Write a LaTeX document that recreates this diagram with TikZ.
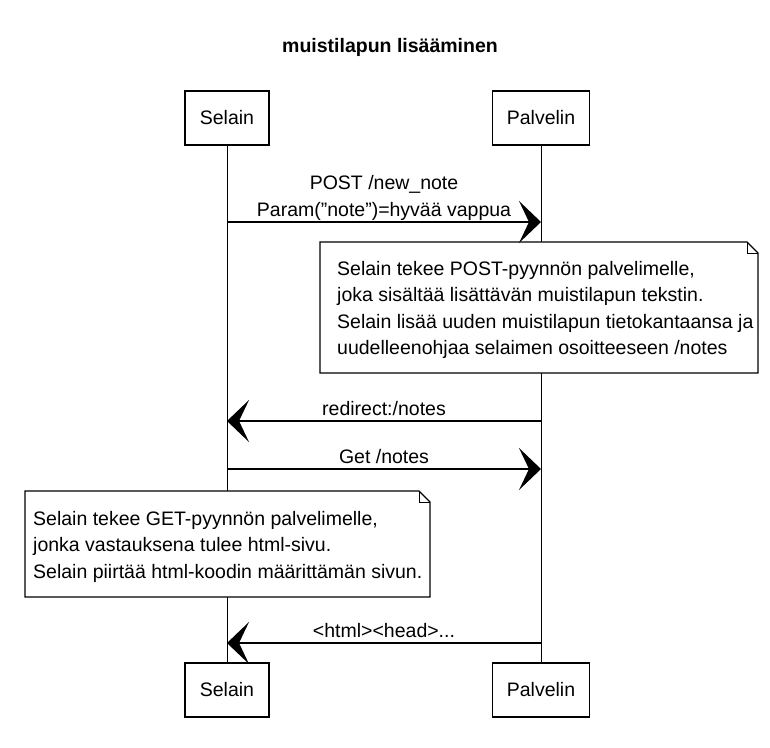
\documentclass[tikz,border=0pt]{standalone}
\usepackage{fontspec}
\setmainfont{Liberation Sans}
\usetikzlibrary{arrows.meta,calc}
\tikzset{
  actor/.style={draw, line width=1.1pt, fill=white, minimum height=54pt, inner sep=0pt},
  lifeline/.style={line width=0.9pt},
  msg/.style={line width=1.2pt, -{Stealth[length=22pt,width=42pt,inset=10pt]}},
  msglabel/.style={above, inner sep=5pt, text depth=0pt, align=center},
  noteline/.style={line width=1.1pt, fill=white},
  notetext/.style={align=left, inner sep=0pt, anchor=north west}
}
\begin{document}
\begin{tikzpicture}[x=1pt,y=-1pt,font=\fontsize{19.5}{26.5}\selectfont]
\useasboundingbox (0,0) rectangle (770,747);
\node[font=\fontsize{19.5}{24}\selectfont\bfseries] (title) at (390,47) {muistilapun lisääminen};
% participants
\node[actor, minimum width=84pt] (selainA) at (227,118) {Selain};
\node[actor, minimum width=97pt] (palvelinA) at (541,118) {Palvelin};
\node[actor, minimum width=84pt] (selainB) at (227,690) {Selain};
\node[actor, minimum width=97pt] (palvelinB) at (541,690) {Palvelin};
\draw[lifeline] (selainA) -- (selainB);
\draw[lifeline] (palvelinA) -- (palvelinB);
% notes
\filldraw[noteline] (320,242) -- (747,242) -- (758,253) -- (758,373) -- (320,373) -- cycle;
\draw[line width=1pt] (747,242) -- (747,253) -- (758,253);
\node[notetext] (note1) at (337,261) {Selain tekee POST-pyynnön palvelimelle,\\joka sisältää lisättävän muistilapun tekstin.\\Selain lisää uuden muistilapun tietokantaansa ja\\uudelleenohjaa selaimen osoitteeseen /notes};
\filldraw[noteline] (25,491) -- (419,491) -- (430,502) -- (430,597) -- (25,597) -- cycle;
\draw[line width=1pt] (419,491) -- (419,502) -- (430,502);
\node[notetext] (note2) at (33,511) {Selain tekee GET-pyynnön palvelimelle,\\jonka vastauksena tulee html-sivu.\\Selain piirtää html-koodin määrittämän sivun.};
% messages
\coordinate (post1) at (227,222);
\coordinate (post2) at (541,222);
\coordinate (redir1) at (541,421);
\coordinate (redir2) at (227,421);
\coordinate (get1) at (227,469);
\coordinate (get2) at (541,469);
\coordinate (html1) at (541,643);
\coordinate (html2) at (227,643);
\draw[msg] (post1) -- node[msglabel] (postlbl) {POST /new\_note\\Param(\symbol{34}note\symbol{34})=hyvää vappua} (post2);
\draw[msg] (redir1) -- node[msglabel] (redirlbl) {redirect:/notes} (redir2);
\draw[msg] (get1) -- node[msglabel] (getlbl) {Get /notes} (get2);
\draw[msg] (html1) -- node[msglabel] (htmllbl) {<html><head>...} (html2);
\end{tikzpicture}
\end{document}
